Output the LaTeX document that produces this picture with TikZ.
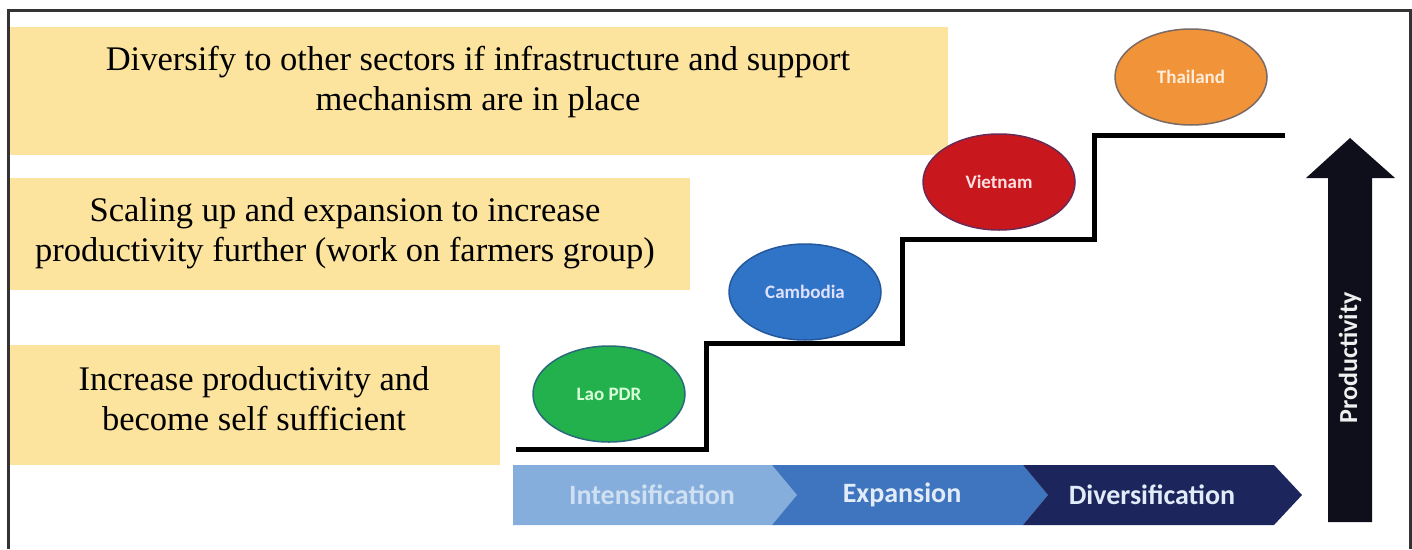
\documentclass[tikz,border=0pt]{standalone}
\usepackage{fontspec}
\setmainfont{Liberation Serif}
\newfontfamily\calfont{Carlito}
\usetikzlibrary{shapes.geometric}
\definecolor{ybox}{HTML}{FCE49E}
\definecolor{laog}{HTML}{22B14C}
\definecolor{laob}{HTML}{2A6A7A}
\definecolor{camb}{HTML}{2F74C6}
\definecolor{cambb}{HTML}{24589E}
\definecolor{vietr}{HTML}{C9171E}
\definecolor{vietb}{HTML}{6A2A55}
\definecolor{thaio}{HTML}{F19338}
\definecolor{thaib}{HTML}{7A6A66}
\definecolor{segA}{HTML}{86AEDD}
\definecolor{segB}{HTML}{3F75BE}
\definecolor{segC}{HTML}{1D265C}
\definecolor{segtxt}{HTML}{E2ECF8}
\definecolor{arrowc}{HTML}{0F0F1C}
\definecolor{framec}{HTML}{333333}
\tikzset{
  yellowbox/.style={rectangle, fill=ybox, draw=none, inner sep=0pt, anchor=north west},
  boxtext/.style={align=center, font=\fontsize{34.5}{40}\selectfont, text=black},
  country/.style={ellipse, line width=1.5pt, inner sep=0pt, minimum width=152pt, minimum height=96pt,
    font=\calfont\bfseries\fontsize{19}{21}\selectfont},
  segtext/.style={font=\calfont\bfseries\fontsize{28}{30}\selectfont, text=segtxt},
  stairline/.style={line width=5pt, black},
  framel/.style={line width=3pt, framec}
}
\begin{document}
\begin{tikzpicture}[x=1pt,y=-1pt]
\useasboundingbox (0,0) rectangle (1412,549);
% yellow boxes
\node[yellowbox, minimum width=940pt, minimum height=128pt] (b1) at (8,27) {};
\node[yellowbox, minimum width=682pt, minimum height=112pt] (b2) at (8,178) {};
\node[yellowbox, minimum width=492pt, minimum height=120pt] (b3) at (8,345) {};
\node[boxtext] (t1) at (478,82) {Diversify to other sectors if infrastructure and support\\mechanism are in place};
\node[boxtext] (t2) at (345,233) {Scaling up and expansion to increase\\productivity further (work on farmers group)};
\node[boxtext] (t3) at (254,399) {Increase productivity and\\become self sufficient};
% staircase
\coordinate (s0) at (516,449);
\coordinate (s1) at (706,343);
\coordinate (s2) at (902,239);
\coordinate (s3) at (1094,135);
\coordinate (s4) at (1285,135);
\draw[stairline] (s0) -| (s1) -| (s2) -| (s3) -- (s4);
% countries
\node[country, fill=laog, draw=laob, text=green!15!white] (lao) at (609,394) {Lao PDR};
\node[country, fill=camb, draw=cambb, text=blue!12!white] (cam) at (805,292) {Cambodia};
\node[country, fill=vietr, draw=vietb, text=red!12!white] (vie) at (999,182) {Vietnam};
\node[country, fill=thaio, draw=thaib, text=orange!15!white] (tha) at (1191,77) {Thailand};
% chevron bar
\fill[segA] (513,465) -- (772,465) -- (797,495) -- (772,525) -- (513,525) -- cycle;
\fill[segB] (772,465) -- (1023,465) -- (1048,495) -- (1023,525) -- (772,525) -- (797,495) -- cycle;
\fill[segC] (1023,465) -- (1274,465) -- (1302,495) -- (1274,525) -- (1023,525) -- (1048,495) -- cycle;
\node[segtext, text=segtxt!80!segA] (intens) at (652,495) {Intensification};
\node[segtext] (expan) at (902,495) {Expansion};
\node[segtext] (diver) at (1152,495) {Diversification};
% productivity arrow
\fill[arrowc] (1328,522) -- (1328,178) -- (1306,178) -- (1350,138) -- (1395,178) -- (1372,178) -- (1372,522) -- cycle;
\node[rotate=90, font=\calfont\bfseries\fontsize{26}{28}\selectfont, text=white!88!gray] (prod) at (1350,358) {Productivity};
% frame
\draw[framel] (8,549) -- (8,10) -- (1410,10) -- (1410,549);
\end{tikzpicture}
\end{document}
